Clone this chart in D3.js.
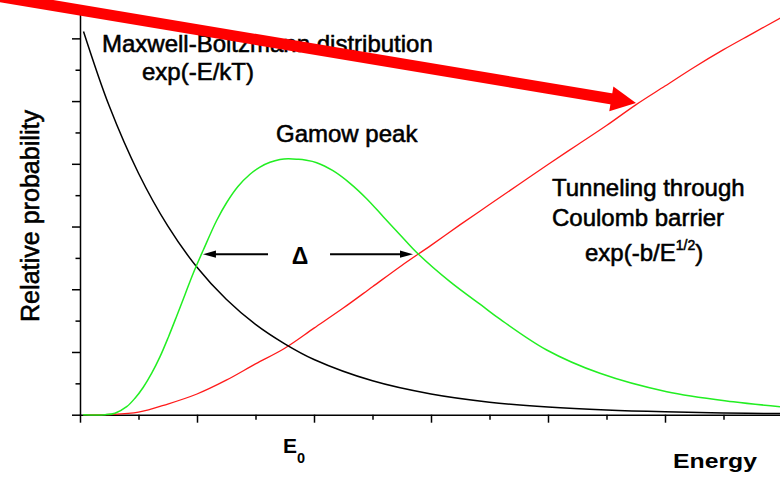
<!DOCTYPE html>
<html>
<head>
<meta charset="utf-8">
<script src="https://cdn.jsdelivr.net/npm/d3@7"></script>
<style>
  html, body { margin: 0; padding: 0; background: #fff; }
  svg { display: block; }
  text { font-family: "Liberation Sans", Arial, Helvetica, sans-serif; fill: #000; }
  text.heavy { stroke: #000; stroke-width: 0.55px; }
</style>
</head>
<body>
<svg id="chart" width="780" height="478"></svg>
<script>
// Energy axis (arbitrary units) and tick positions
const xMajorTicks = [0, 1, 2, 3, 4, 5, 6];
const xMinorTicks = [0.5, 1.5, 2.5, 3.5, 4.5, 5.5];
const yMajorTicks = [0, 1, 2, 3, 4, 5, 6];
const yMinorTicks = [0.5, 1.5, 2.5, 3.5, 4.5, 5.5, 6.5];

// Maxwell-Boltzmann distribution exp(-E/kT)
const mbEnergy = [0.03, 0.25, 0.5, 0.75, 1, 1.25, 1.5, 1.75, 2, 2.5, 3, 3.5, 4, 4.5, 5, 5.5, 6];
const mbProb   = [6.11, 4.92, 3.85, 3.01, 2.35, 1.84, 1.44, 1.13, 0.88, 0.54, 0.33, 0.20, 0.123, 0.075, 0.046, 0.028, 0.017];

// Tunneling through the Coulomb barrier exp(-b/E^1/2)
const tunEnergy = [0.03, 0.15, 0.25, 0.5, 0.75, 1, 1.25, 1.5, 1.75, 2, 2.25, 2.5, 2.75, 3, 3.25, 3.5, 3.75, 4, 4.25, 4.5, 4.75, 5, 5.25, 5.5, 5.75, 6];
const tunProb   = [0, 0, 0.003, 0.04, 0.17, 0.33, 0.55, 0.81, 1.06, 1.38, 1.70, 2.04, 2.38, 2.70, 3.03, 3.35, 3.67, 3.99, 4.30, 4.61, 4.94, 5.24, 5.54, 5.82, 6.08, 6.34];

// Gamow peak (product of the two)
const gamowEnergy = [0.026, 0.214, 0.299, 0.399, 0.470, 0.541, 0.613, 0.684, 0.755, 0.826, 0.897, 0.968, 1.054, 1.168, 1.254, 1.350, 1.453, 1.538, 1.624, 1.709, 1.780, 1.863, 1.923, 2.023, 2.162, 2.308, 2.450, 2.592, 2.735, 2.891, 3.162, 3.447, 3.590, 3.989, 4.444, 5.015, 5.584, 5.983];
const gamowProb   = [0, 0, 0.024, 0.128, 0.263, 0.438, 0.662, 0.925, 1.236, 1.570, 1.913, 2.256, 2.626, 3.096, 3.383, 3.638, 3.833, 3.948, 4.024, 4.069, 4.082, 4.072, 4.059, 4.018, 3.890, 3.689, 3.444, 3.157, 2.870, 2.562, 2.121, 1.722, 1.523, 1.032, 0.660, 0.367, 0.207, 0.128];

// Width marker of the Gamow peak
const deltaLevel = 2.56;
const deltaTips = [1.051, 2.846];
const deltaTails = [1.607, 2.137];
const deltaLabelAt = 1.88;
const peakEnergyLabelAt = 1.73;

const svg = d3.select("#chart");

const x = d3.scaleLinear().domain([0, 6]).range([80, 782]);
const y = d3.scaleLinear().domain([0, 6.5]).range([414.7, 7]);

const axisStyle = g => {
  g.selectAll("path, line").attr("stroke", "#000").attr("stroke-width", 1.5);
  g.selectAll("text").remove();
};

// Axes: long major ticks, short minor ticks
svg.append("g").attr("transform", `translate(0,${y(0)})`)
  .call(d3.axisBottom(x).tickValues(xMinorTicks).tickSize(5).tickSizeOuter(0).tickFormat(""))
  .call(axisStyle).call(g => g.select(".domain").remove());
svg.append("g").attr("transform", `translate(0,${y(0)})`)
  .call(d3.axisBottom(x).tickValues(xMajorTicks).tickSize(8).tickSizeOuter(0).tickFormat(""))
  .call(axisStyle);
svg.append("g").attr("transform", `translate(${x(0)},0)`)
  .call(d3.axisLeft(y).tickValues(yMinorTicks).tickSize(4.5).tickSizeOuter(0).tickFormat(""))
  .call(axisStyle).call(g => g.select(".domain").remove());
svg.append("g").attr("transform", `translate(${x(0)},0)`)
  .call(d3.axisLeft(y).tickValues(yMajorTicks).tickSize(8).tickSizeOuter(0).tickFormat(""))
  .call(axisStyle);

// Curves
const line = d3.line().x(d => x(d[0])).y(d => Math.min(y(0), y(d[1])))
  .curve(d3.curveCatmullRom.alpha(0.5));
const series = [
  { e: tunEnergy, p: tunProb, color: "#ff1a1a", w: 1.3 },
  { e: mbEnergy, p: mbProb, color: "#000000", w: 1.5 },
  { e: gamowEnergy, p: gamowProb, color: "#22ee22", w: 1.5 }
];
series.forEach(s => {
  svg.append("path")
    .datum(d3.zip(s.e, s.p))
    .attr("fill", "none")
    .attr("stroke", s.color)
    .attr("stroke-width", s.w)
    .attr("d", line);
});

// Delta arrows
function arrow(tailE, tipE) {
  const yl = y(deltaLevel);
  const x0 = x(tailE), x1 = x(tipE);
  const dir = Math.sign(x1 - x0);
  const headLen = 13, half = 3.6;
  svg.append("line")
    .attr("x1", x0).attr("y1", yl).attr("x2", x1 - dir * headLen + dir).attr("y2", yl)
    .attr("stroke", "#000").attr("stroke-width", 2);
  svg.append("path")
    .attr("d", `M${x1},${yl} L${x1 - dir * headLen},${yl - half} L${x1 - dir * headLen},${yl + half} Z`)
    .attr("fill", "#000");
}
arrow(deltaTails[0], deltaTips[0]);
arrow(deltaTails[1], deltaTips[1]);
svg.append("text")
  .attr("x", x(deltaLabelAt)).attr("y", 263.5)
  .attr("text-anchor", "middle")
  .attr("font-size", 23).attr("font-weight", "bold")
  .text("Δ");

// Labels
const label = (tx, ty, str, size = 24) =>
  svg.append("text").attr("class", "heavy").attr("x", tx).attr("y", ty).attr("font-size", size).text(str);

label(102, 52, "Maxwell-Boltzmann distribution");
label(142, 80, "exp(-E/kT)");
label(276, 141.5, "Gamow peak");
label(552, 196, "Tunneling through");
label(552, 226, "Coulomb barrier");
const tb = svg.append("text").attr("class", "heavy").attr("x", 585).attr("y", 260.5).attr("font-size", 24);
tb.append("tspan").text("exp(-b/E");
tb.append("tspan").attr("font-size", 14).attr("dy", -10.5).text("1/2");
tb.append("tspan").attr("dy", 10.5).text(")");

svg.append("text")
  .attr("class", "heavy")
  .attr("transform", "translate(39,216) rotate(-90)")
  .attr("text-anchor", "middle")
  .attr("font-size", 25)
  .attr("textLength", 212).attr("lengthAdjust", "spacingAndGlyphs")
  .text("Relative probability");

const e0 = svg.append("text").attr("x", x(peakEnergyLabelAt) + 0.5).attr("y", 453).attr("font-size", 21).attr("font-weight", "bold");
e0.append("tspan").text("E");
e0.append("tspan").attr("font-size", 14.5).attr("dy", 9.5).text("0");

svg.append("text")
  .attr("x", 673).attr("y", 468)
  .attr("font-size", 20).attr("font-weight", "bold")
  .attr("textLength", 84).attr("lengthAdjust", "spacingAndGlyphs")
  .text("Energy");

// Highlight arrow pointing at the tunneling curve
const start = [-10, -5], tip = [636, 103];
const dx = tip[0] - start[0], dy = tip[1] - start[1];
const len = Math.hypot(dx, dy);
const ux = dx / len, uy = dy / len, nx = -uy, ny = ux;
const headLen = 25, headHalf = 12.5;
const base = [tip[0] - headLen * ux, tip[1] - headLen * uy];
svg.append("line")
  .attr("x1", start[0]).attr("y1", start[1])
  .attr("x2", base[0] + ux).attr("y2", base[1] + uy)
  .attr("stroke", "#ff0000").attr("stroke-width", 11);
svg.append("path")
  .attr("d", `M${tip[0]},${tip[1]} L${base[0] + headHalf * nx},${base[1] + headHalf * ny} L${base[0] - headHalf * nx},${base[1] - headHalf * ny} Z`)
  .attr("fill", "#ff0000");
</script>
</body>
</html>
